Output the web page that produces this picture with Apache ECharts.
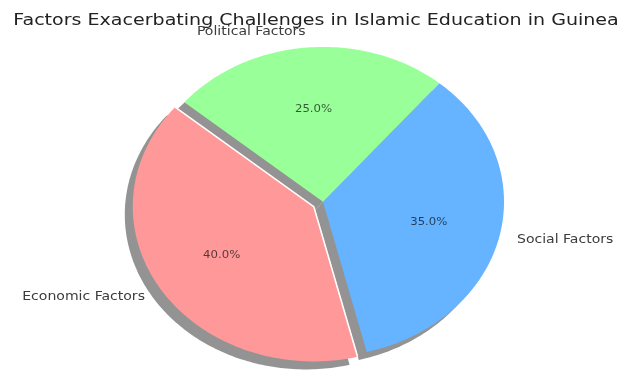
<!DOCTYPE html>
<html><head><meta charset="utf-8">
<script src="https://cdn.jsdelivr.net/npm/echarts@6/dist/echarts.min.js"></script>
<style>html,body{margin:0;padding:0;background:#fff}#c{width:627px;height:372px}</style>
</head><body><div id="c"></div>
<script>
var titleText = 'Factors Exacerbating Challenges in Islamic Education in Guinea';
var categories = ['Economic Factors', 'Social Factors', 'Political Factors'];
var values = [40, 35, 25];
var pctLabels = ['40.0%', '35.0%', '25.0%'];

var colors = ['#ff9999', '#66b3ff', '#99ff99'];
var explode = [0.06, 0, 0];
var START = 140;
var STRETCH = 1.17;
var CX = 323, CY = 202, RX = 181, RY = 155;
var XMIN = -1.3, XMAX = 1.3, YMIN = -1.1, YMAX = 1.3;

var total = values.reduce(function(a, b){ return a + b; }, 0);
var cum = []; var acc = 0;
values.forEach(function(v){ cum.push(acc); acc += v; });

function geom(i){
  var a0 = START + 360 * cum[i] / total;
  var a1 = a0 + 360 * values[i] / total;
  var am = (a0 + a1) / 2 * Math.PI / 180;
  return {a0: a0, a1: a1, am: am, ox: explode[i] * Math.cos(am), oy: explode[i] * Math.sin(am)};
}
function pts(api, g, dx, dy){
  var out = [];
  var c = api.coord([g.ox, g.oy]);
  out.push([c[0] + dx, c[1] + dy]);
  var n = Math.max(2, Math.ceil(g.a1 - g.a0));
  for (var k = 0; k <= n; k++){
    var t = (g.a0 + (g.a1 - g.a0) * k / n) * Math.PI / 180;
    var p = api.coord([g.ox + Math.cos(t), g.oy + Math.sin(t)]);
    out.push([p[0] + dx, p[1] + dy]);
  }
  return out;
}
function txt(p, text, font, fill, align){
  return {type: 'text', x: p[0], y: p[1], scaleX: STRETCH, silent: true,
    style: {text: text, font: font, fill: fill, align: align, textAlign: align,
            verticalAlign: 'middle', textVerticalAlign: 'middle'}};
}

var data = values.map(function(v, i){ return {name: categories[i], value: [i, v]}; });

var chart = echarts.init(document.getElementById('c'), null, {renderer: 'canvas'});
chart.setOption({
  animation: false,
  backgroundColor: '#fff',
  grid: {left: CX + XMIN * RX, width: (XMAX - XMIN) * RX, top: CY - YMAX * RY, height: (YMAX - YMIN) * RY},
  xAxis: {type: 'value', min: XMIN, max: XMAX, show: false},
  yAxis: {type: 'value', min: YMIN, max: YMAX, show: false},
  graphic: [{type: 'text', x: 316, y: 20.5, scaleX: STRETCH,
    style: {text: titleText, font: '16.3px "DejaVu Sans"', fill: '#222',
            align: 'center', textAlign: 'center', verticalAlign: 'middle', textVerticalAlign: 'middle'}}],
  series: [
    {type: 'custom', name: 'shadow', clip: false, silent: true, z: 1, data: data,
     renderItem: function(params, api){
       var g = geom(params.dataIndex);
       return {type: 'polygon', shape: {points: pts(api, g, -8, 8)}, style: {fill: '#939393'}};
     }},
    {type: 'custom', name: 'wedges', clip: false, z: 2, data: data,
     renderItem: function(params, api){
       var i = params.dataIndex;
       var g = geom(i);
       var p = pts(api, g, 0, 0);
       var children = [{type: 'polygon', shape: {points: p}, style: {fill: colors[i]}}];
       if (explode[i] > 0){
         children.push({type: 'polyline', shape: {points: [p[1], p[0], p[p.length - 1]]},
           style: {stroke: '#ffffff', lineWidth: 1.6, fill: null}});
       }
       var pc = api.coord([g.ox + 0.6 * Math.cos(g.am), g.oy + 0.6 * Math.sin(g.am)]);
       children.push(txt(pc, pctLabels[i], '10px "DejaVu Sans"', 'rgba(0,0,0,0.65)', 'center'));
       var lc = api.coord([g.ox + 1.1 * Math.cos(g.am), g.oy + 1.1 * Math.sin(g.am)]);
       children.push(txt(lc, categories[i], '12px "DejaVu Sans"', '#3c3c3c', Math.cos(g.am) >= 0 ? 'left' : 'right'));
       return {type: 'group', children: children};
     }}
  ]
});
</script>
</body></html>
